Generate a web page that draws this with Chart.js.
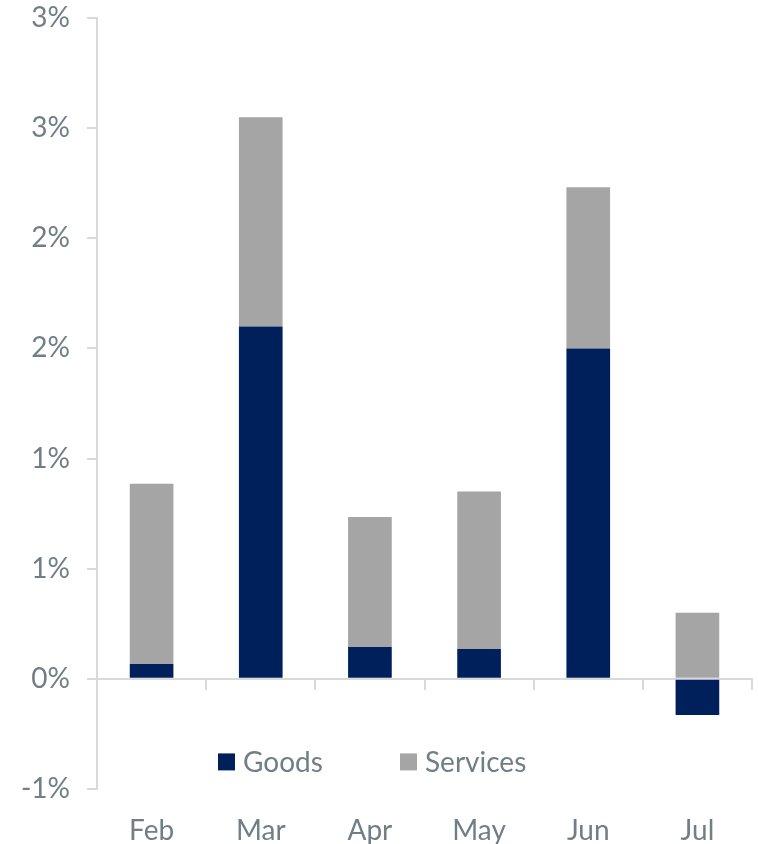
<!DOCTYPE html>
<html>
<head>
<meta charset="utf-8">
<script src="https://cdn.jsdelivr.net/npm/chart.js@4/dist/chart.umd.min.js"></script>
<style>
  html, body { margin: 0; padding: 0; background: #ffffff; }
  #wrap { position: relative; width: 758px; height: 844px; }
</style>
</head>
<body>
<div id="wrap"><canvas id="c" width="758" height="844"></canvas></div>
<script>
const categories = ['Feb', 'Mar', 'Apr', 'May', 'Jun', 'Jul'];
const goods = [0.068, 1.60, 0.145, 0.136, 1.50, -0.164];
const services = [0.818, 0.95, 0.59, 0.714, 0.732, 0.30];
const seriesNames = ['Goods', 'Services'];
const yTickLabels = ['-1%', '0%', '1%', '1%', '2%', '2%', '3%', '3%'];

const NAVY = '#00205b';
const GREY = '#a5a5a5';
const AXIS = '#d9d9d9';
const TEXT = '#717e87';
const FONT = 'Lato, "Open Sans", sans-serif';

const legendPlugin = {
  id: 'inlineLegend',
  afterDraw(chart) {
    const ctx = chart.ctx;
    const y = chart.scales.y.getPixelForValue(-0.377);
    const items = [
      { text: seriesNames[0], color: NAVY, x: 218 },
      { text: seriesNames[1], color: GREY, x: 400 }
    ];
    ctx.save();
    ctx.font = '28px ' + FONT;
    ctx.textBaseline = 'middle';
    ctx.textAlign = 'left';
    items.forEach(it => {
      ctx.fillStyle = it.color;
      ctx.fillRect(it.x, y - 8.5, 17, 17);
      ctx.fillStyle = TEXT;
      ctx.fillText(it.text, it.x + 25, y + 1);
    });
    ctx.restore();
  }
};

new Chart(document.getElementById('c'), {
  type: 'bar',
  data: {
    labels: categories,
    datasets: [
      { label: seriesNames[0], data: goods, backgroundColor: NAVY, borderWidth: 0, barPercentage: 0.4, categoryPercentage: 1 },
      { label: seriesNames[1], data: services, backgroundColor: GREY, borderWidth: 0, barPercentage: 0.4, categoryPercentage: 1 }
    ]
  },
  options: {
    responsive: false,
    animation: false,
    layout: { padding: { top: 0, right: 6, bottom: 0, left: 0 } },
    plugins: { legend: { display: false }, tooltip: { enabled: false } },
    scales: {
      x: {
        stacked: true,
        grid: { display: false },
        border: { display: false },
        ticks: { color: TEXT, font: { family: FONT, size: 28 }, padding: 17 },
        afterFit: s => { s.height = 55; }
      },
      x2: {
        type: 'category',
        labels: categories,
        offset: true,
        position: { y: 0 },
        grid: { offset: true, drawOnChartArea: false, tickLength: 10, color: AXIS, lineWidth: 2 },
        border: { display: true, color: AXIS, width: 2 },
        ticks: { display: false }
      },
      y: {
        stacked: true,
        min: -0.5,
        max: 3.0,
        ticks: {
          stepSize: 0.5,
          color: TEXT,
          font: { family: FONT, size: 28 },
          padding: 17,
          callback: (v, i) => yTickLabels[i]
        },
        grid: { drawOnChartArea: false, tickLength: 10, color: AXIS, lineWidth: 2 },
        border: { display: true, color: AXIS, width: 2 },
        afterFit: s => { s.width = 97; s.paddingTop = 18; s.paddingBottom = 0; }
      }
    }
  },
  plugins: [legendPlugin]
});
</script>
</body>
</html>
